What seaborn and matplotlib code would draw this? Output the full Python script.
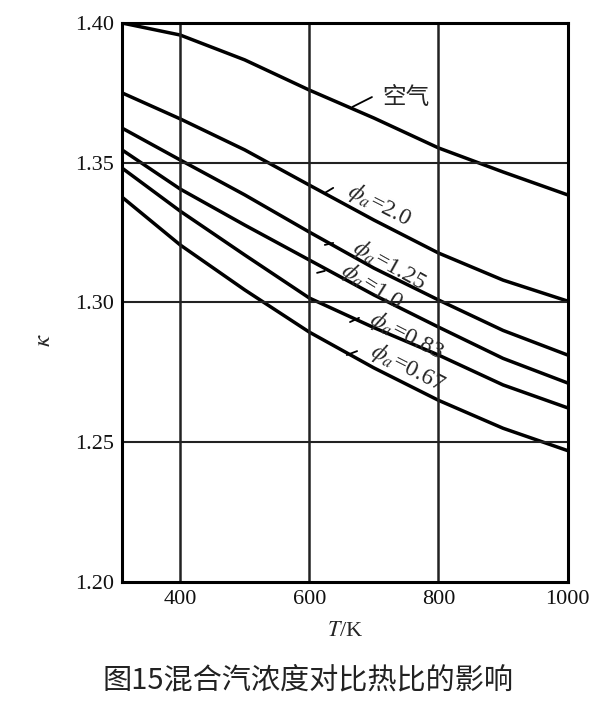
import pandas as pd
import seaborn as sns
import matplotlib.pyplot as plt

# Values (T in K, kappa)
temps = [310, 400, 500, 600, 700, 800, 900, 1000]
kappa_air = [1.400, 1.3957, 1.3868, 1.376, 1.366, 1.3553, 1.3467, 1.3385]
kappa_200 = [1.375, 1.3657, 1.3546, 1.342, 1.3295, 1.3177, 1.308, 1.3005]
kappa_125 = [1.3624, 1.351, 1.3385, 1.3252, 1.3123, 1.3009, 1.290, 1.2812]
kappa_100 = [1.3546, 1.3406, 1.3277, 1.3152, 1.3027, 1.2912, 1.280, 1.2712]
kappa_083 = [1.3481, 1.3327, 1.317, 1.3016, 1.291, 1.2812, 1.2705, 1.2623]
kappa_067 = [1.3377, 1.3206, 1.3045, 1.2894, 1.2766, 1.265, 1.255, 1.247]

curve_names = ['air', '2.0', '1.25', '1.0', '0.83', '0.67']
curve_values = [kappa_air, kappa_200, kappa_125, kappa_100, kappa_083, kappa_067]

y_ticks = [1.20, 1.25, 1.30, 1.35, 1.40]
x_ticks = [400, 600, 800, 1000]
x_minor = [500, 700, 900]

rows = []
for name, vals in zip(curve_names, curve_values):
    for t, k in zip(temps, vals):
        rows.append({'T': t, 'kappa': k, 'curve': name})
df = pd.DataFrame(rows)

sns.set_style('white')
plt.rcParams['font.family'] = ['Liberation Serif', 'Noto Sans CJK SC', 'DejaVu Sans']
plt.rcParams['mathtext.fontset'] = 'stix'

fig = plt.figure(figsize=(6.08, 7.01), dpi=100)
ax = fig.add_axes([0.2007, 0.1698, 0.7329, 0.7974])

sns.lineplot(data=df, x='T', y='kappa', hue='curve', estimator=None,
             palette={n: 'black' for n in curve_names}, linewidth=2.5,
             legend=False, ax=ax)

ax.set_xlim(310, 1000)
ax.set_ylim(1.20, 1.40)
ax.set_yticks(y_ticks)
ax.set_yticklabels(['%.2f' % v for v in y_ticks], fontsize=16)
ax.set_xticks(x_ticks)
ax.set_xticklabels([str(v) for v in x_ticks], fontsize=16)
ax.set_xticks(x_minor, minor=True)
ax.tick_params(axis='both', which='major', length=0, pad=6, colors='#111111')
ax.tick_params(axis='x', which='minor', direction='in', length=6, width=1.5)

for v in x_ticks[:-1]:
    ax.axvline(v, color='#222222', linewidth=1.8)
for v in y_ticks[1:-1]:
    ax.axhline(v, color='#222222', linewidth=1.5)

for s in ax.spines.values():
    s.set_color('black')
    s.set_linewidth(2.2)

ax.set_xlabel(r'$T$/K', fontsize=16, labelpad=9)
ax.set_ylabel(r'$\kappa$', fontsize=18)
ax.yaxis.set_label_coords(-0.15, 0.433)

# curve labels with short leader strokes
ax.text(750, 1.3735, '空气', fontsize=17, family=['Noto Sans CJK SC'],
        ha='center', va='center')
ax.plot([667, 697], [1.3700, 1.3735], color='black', linewidth=1.3)

labels = [
    (r'$\phi_a$=2.0', 708, 1.3349, -27, (624, 637), (1.3392, 1.3410)),
    (r'$\phi_a$=1.25', 724, 1.3134, -29, (624, 637), (1.3206, 1.3213)),
    (r'$\phi_a$=1.0', 697, 1.3059, -32, (612, 624), (1.3106, 1.3113)),
    (r'$\phi_a$=0.83', 750, 1.2880, -27, (663, 677), (1.2930, 1.2945)),
    (r'$\phi_a$=0.67', 753, 1.2766, -27, (658, 674), (1.2812, 1.2826)),
]
for txt, tx, ty, rot, lx, ly in labels:
    ax.text(tx, ty, txt, fontsize=17, rotation=rot, ha='center', va='center',
            rotation_mode='anchor')
    ax.plot(lx, ly, color='black', linewidth=1.3)

fig.text(0.506, 0.008, '图15混合汽浓度对比热比的影响', fontsize=21,
         family=['Noto Sans CJK SC', 'DejaVu Sans'], fontweight='medium',
         ha='center', va='bottom', color='#222222')

plt.savefig('out.png', dpi=100)
